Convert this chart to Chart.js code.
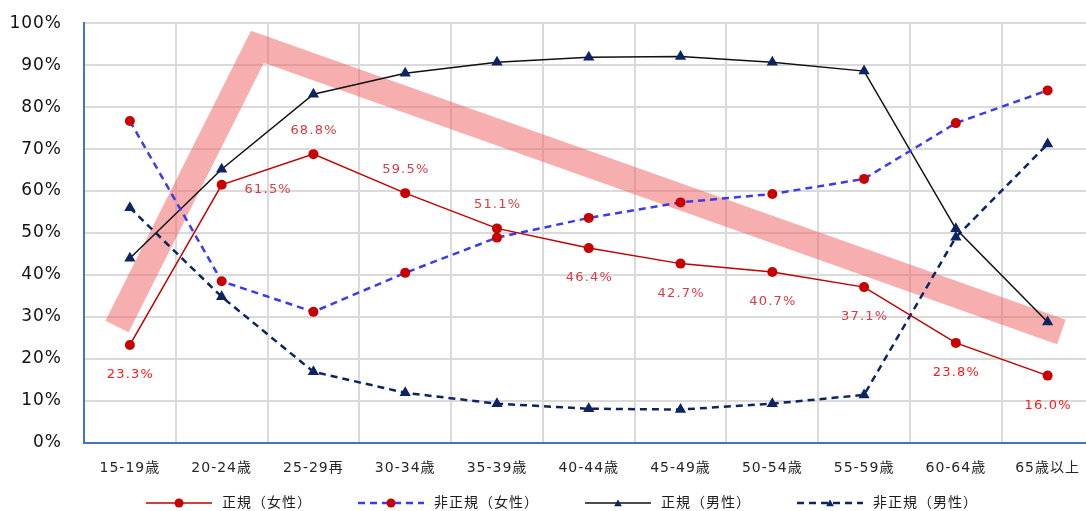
<!DOCTYPE html>
<html>
<head>
<meta charset="utf-8">
<script src="https://cdn.jsdelivr.net/npm/chart.js@4.4.1/dist/chart.umd.min.js"></script>
<style>
  html, body { margin: 0; padding: 0; overflow: hidden; background: #fff; width: 1086px; height: 511px; }
  #wrap { position: relative; width: 1100px; height: 511px; }
</style>
</head>
<body>
<div id="wrap"><canvas id="c" width="1100" height="511"></canvas></div>
<script>
// Age groups on the horizontal axis
const ageGroups = ['15-19歳', '20-24歳', '25-29再', '30-34歳', '35-39歳', '40-44歳',
                   '45-49歳', '50-54歳', '55-59歳', '60-64歳', '65歳以上'];

// Shares (%) by employment type and sex
const regularFemale    = [23.3, 61.5, 68.8, 59.5, 51.1, 46.4, 42.7, 40.7, 37.1, 23.8, 16.0];
const nonRegularFemale = [76.7, 38.5, 31.2, 40.5, 48.9, 53.6, 57.3, 59.3, 62.9, 76.2, 84.0];
const regularMale      = [44.0, 65.2, 83.1, 88.1, 90.7, 91.9, 92.1, 90.7, 88.6, 51.0, 28.8];
const nonRegularMale   = [56.0, 34.8, 16.9, 11.9,  9.3,  8.1,  7.9,  9.3, 11.4, 49.0, 71.2];

// Highlight band (position in category units / percent)
const bandX = [-0.14, 1.39, 10.15];
const bandY = [27.7, 94.4, 26.4];

// Value axis ticks
const yMin = 0, yMax = 100, yStep = 10;

// Label styling for the 正規(女性) values
const labelPlacement = ['below', 'right', 'above', 'above', 'above', 'below', 'below', 'below', 'below', 'below', 'below'];
const labelColors = ['#ff1a1a', '#d63c44', '#d63c44', '#d63c44', '#d63c44', '#d63c44',
                     '#d63c44', '#d63c44', '#d63c44', '#ff1a1a', '#ff1a1a'];

const FONT = '"DejaVu Sans", "Noto Sans CJK JP", sans-serif';

function drawTriangle(ctx, cx, cy, r) {
  ctx.beginPath();
  ctx.moveTo(cx, cy - r);
  ctx.lineTo(cx + r * 0.866, cy + r * 0.5);
  ctx.lineTo(cx - r * 0.866, cy + r * 0.5);
  ctx.closePath();
  ctx.fill();
}

// The plot area is fixed by the layout padding, not by label overhang
function noScalePadding(s) {
  s.paddingTop = 0; s.paddingBottom = 0; s.paddingLeft = 0; s.paddingRight = 0;
}

const spacingPlugin = {
  id: 'letterSpacing',
  beforeDraw(chart) { chart.ctx.letterSpacing = '1px'; }
};

const valueLabels = {
  id: 'valueLabels',
  afterDatasetsDraw(chart) {
    const ctx = chart.ctx;
    const meta = chart.getDatasetMeta(0);
    ctx.save();
    ctx.font = '13px ' + FONT;
    ctx.letterSpacing = '1.2px';
    ctx.textAlign = 'center';
    ctx.textBaseline = 'middle';
    meta.data.forEach((pt, i) => {
      let dx = 0, dy = 0;
      if (labelPlacement[i] === 'below') dy = 30;
      else if (labelPlacement[i] === 'above') dy = -24;
      else { dx = 46; dy = 5; }
      ctx.fillStyle = labelColors[i];
      ctx.fillText(regularFemale[i].toFixed(1) + '%', pt.x + dx + 0.6, pt.y + dy);
    });
    ctx.restore();
  }
};

const lineLegend = {
  id: 'lineLegend',
  afterDraw(chart) {
    const ctx = chart.ctx;
    const items = chart.data.datasets.filter(d => d.showInLegend);
    ctx.save();
    ctx.font = '14px ' + FONT;
    ctx.letterSpacing = '1px';
    ctx.textBaseline = 'middle';
    ctx.textAlign = 'left';
    const lineLen = 66, textGap = 10, itemGap = 46, centerX = 562, y = 503;
    const widths = items.map(d => ctx.measureText(d.label).width);
    const total = widths.reduce((a, w) => a + lineLen + textGap + w, 0) + itemGap * (items.length - 1);
    let x = centerX - total / 2;
    items.forEach((d, i) => {
      ctx.strokeStyle = d.borderColor;
      ctx.lineWidth = d.borderWidth;
      ctx.setLineDash(d.borderDash || []);
      ctx.beginPath();
      ctx.moveTo(x, y);
      ctx.lineTo(x + lineLen, y);
      ctx.stroke();
      ctx.setLineDash([]);
      ctx.fillStyle = d.pointBackgroundColor;
      if (d.pointStyle === 'triangle') {
        drawTriangle(ctx, x + lineLen / 2, y + 1, 4.5);
      } else {
        ctx.beginPath();
        ctx.arc(x + lineLen / 2, y, 4.5, 0, Math.PI * 2);
        ctx.fill();
      }
      ctx.fillStyle = '#1a1a1a';
      ctx.fillText(d.label, x + lineLen + textGap, y);
      x += lineLen + textGap + widths[i] + itemGap;
    });
    ctx.restore();
  }
};

new Chart(document.getElementById('c'), {
  type: 'line',
  data: {
    labels: ageGroups,
    datasets: [
      {
        label: '正規（女性）', data: regularFemale, showInLegend: true,
        borderColor: '#c00000', borderWidth: 1.5,
        pointStyle: 'circle', pointRadius: 5, pointBorderWidth: 0,
        pointBackgroundColor: '#c80000', pointBorderColor: '#c80000',
        tension: 0, order: 0
      },
      {
        label: '非正規（女性）', data: nonRegularFemale, showInLegend: true,
        borderColor: '#3b3bee', borderWidth: 2.5, borderDash: [7, 5],
        pointStyle: 'circle', pointRadius: 5, pointBorderWidth: 0,
        pointBackgroundColor: '#c80000', pointBorderColor: '#c80000',
        tension: 0, order: 1
      },
      {
        label: '正規（男性）', data: regularMale, showInLegend: true,
        borderColor: '#111111', borderWidth: 1.5,
        pointStyle: 'triangle', pointRadius: 6.5, pointBorderWidth: 0,
        pointBackgroundColor: '#0c2462', pointBorderColor: '#0c2462',
        tension: 0, order: 2
      },
      {
        label: '非正規（男性）', data: nonRegularMale, showInLegend: true,
        borderColor: '#0c2462', borderWidth: 2.5, borderDash: [7, 5],
        pointStyle: 'triangle', pointRadius: 6.5, pointBorderWidth: 0,
        pointBackgroundColor: '#0c2462', pointBorderColor: '#0c2462',
        tension: 0, order: 3
      },
      {
        label: 'band', xAxisID: 'xb',
        data: bandX.map((x, i) => ({ x: x, y: bandY[i] })),
        borderColor: 'rgba(240, 100, 100, 0.52)', borderWidth: 26,
        borderJoinStyle: 'miter', borderCapStyle: 'butt',
        pointRadius: 0, tension: 0, order: 10
      }
    ]
  },
  options: {
    responsive: false,
    animation: false,
    devicePixelRatio: 1,
    events: [],
    layout: { padding: { top: 23.3, right: 1, left: 0, bottom: 0 } },
    plugins: { legend: { display: false }, tooltip: { enabled: false } },
    scales: {
      x: {
        type: 'category', offset: true,
        grid: { offset: true, color: '#dadada', lineWidth: 2, drawTicks: false },
        border: { color: '#4472c4', width: 2 },
        ticks: { padding: 17, color: '#262626', maxRotation: 0, autoSkip: false,
                 font: { family: FONT, size: 14 } },
        afterFit(s) { s.height = 68.3; noScalePadding(s); }
      },
      xb: { type: 'linear', display: false, min: -0.5, max: 10.5 },
      y: {
        min: yMin, max: yMax,
        grid: { color: '#dadada', lineWidth: 2, drawTicks: false },
        border: { color: '#4472c4', width: 2 },
        ticks: { stepSize: yStep, padding: 22, color: '#111111',
                 font: { family: FONT, size: 17 },
                 callback: v => v + '%' },
        afterFit(s) { s.width = 84; noScalePadding(s); }
      }
    }
  },
  plugins: [spacingPlugin, valueLabels, lineLegend]
});
</script>
</body>
</html>
